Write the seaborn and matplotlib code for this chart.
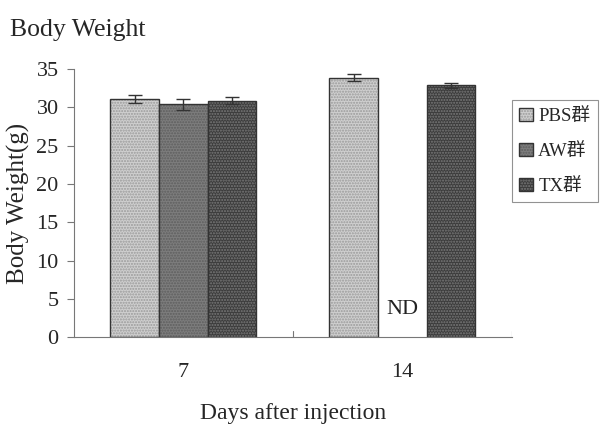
import matplotlib
matplotlib.use("Agg")
import matplotlib.pyplot as plt
import matplotlib.colors as mcolors
import seaborn as sns
import pandas as pd

days = ["7", "7", "7", "14", "14"]
groups = ["PBS群", "AW群", "TX群", "PBS群", "TX群"]
weights = [31.1, 30.4, 30.9, 33.9, 32.9]
errors = [0.55, 0.75, 0.45, 0.5, 0.35]
hue_order = ["PBS群", "AW群", "TX群"]
day_order = ["7", "14"]
yticks = [0, 5, 10, 15, 20, 25, 30, 35]

face_colors = {"PBS群": "#cfcfcf", "AW群": "#7d7d7d", "TX群": "#3c3c3c"}
hatch_colors = {"PBS群": "#9a9a9a", "AW群": "#5e5e5e", "TX群": "#7a7a7a"}

df = pd.DataFrame({"day": days, "group": groups, "weight": weights, "err": errors})

sns.set_style("white")
serif = ["Liberation Serif", "Noto Sans CJK JP", "DejaVu Sans"]
plt.rcParams["font.family"] = serif
plt.rcParams["hatch.linewidth"] = 1.0

fig = plt.figure(figsize=(6.04, 4.24), dpi=100)
ax = fig.add_axes([0.1225, 0.205, 0.725, 0.632])

sns.barplot(data=df, x="day", y="weight", hue="group", order=day_order,
            hue_order=hue_order, palette=face_colors, errorbar=None,
            width=0.667, ax=ax, legend=True, saturation=1)

for cont, g in zip(ax.containers, hue_order):
    sub = df[df["group"] == g]
    for bar, (_, row) in zip(cont, sub.iterrows()):
        bar.set_edgecolor("#333333")
        bar.set_linewidth(1.0)
        bar.set_hatch("......")
        bar._hatch_color = mcolors.to_rgba(hatch_colors[g])
        cx = bar.get_x() + bar.get_width() / 2
        ax.errorbar(cx, row["weight"], yerr=row["err"], fmt="none",
                    ecolor="#333333", elinewidth=1.0, capsize=5, capthick=1.0)

# ND label for missing AW group at day 14
ax.text(1.0, 2.3, "ND", ha="center", va="bottom", fontsize=16, color="#222222")

ax.set_ylim(0, 35)
ax.set_xlim(-0.5, 1.5)
ax.set_yticks(yticks)
ax.tick_params(axis="y", direction="out", length=5, width=0.8, color="#777777",
               labelsize=16, pad=6, left=True)
ax.set_xticks([0, 1])
ax.set_xticklabels(day_order)
ax.tick_params(axis="x", length=0, labelsize=16, pad=19)
for xb in [0.5, 1.5]:
    ax.axvline(xb, ymin=0, ymax=0.022, color="#777777", lw=0.8)

for s in ["top", "right"]:
    ax.spines[s].set_visible(False)
for s in ["left", "bottom"]:
    ax.spines[s].set_color("#777777")
    ax.spines[s].set_linewidth(0.8)

ax.set_ylabel("Body Weight(g)", fontsize=18, labelpad=5)
ax.set_xlabel("Days after injection", fontsize=17, labelpad=15)

leg = ax.legend(loc="upper left", bbox_to_anchor=(1.0, 0.884), frameon=True,
                fancybox=False, fontsize=13.5, handlelength=0.7, handleheight=0.7,
                handletextpad=0.3, labelspacing=0.95, borderpad=0.4,
                borderaxespad=0, edgecolor="#777777")
leg.get_frame().set_linewidth(0.8)
for h, g in zip(leg.legend_handles, hue_order):
    h.set_hatch("......")
    h.set_edgecolor("#333333")
    h._hatch_color = mcolors.to_rgba(hatch_colors[g])

fig.text(0.017, 0.93, "Body Weight", fontsize=18.5, ha="left", va="center")

fig.savefig("out.png", dpi=100)
